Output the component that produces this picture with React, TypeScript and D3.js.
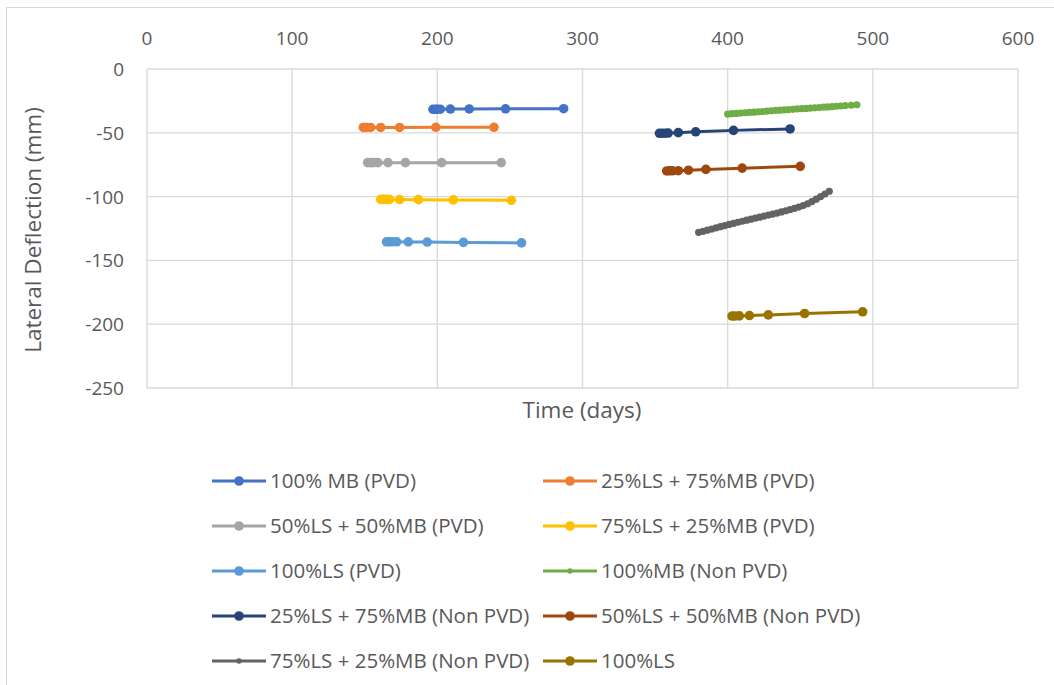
import * as d3 from "d3";
import { useEffect, useRef } from "react";

const WIDTH = 1054;
const HEIGHT = 685;

const xTicks = [0, 100, 200, 300, 400, 500, 600];
const yTicks = [0, -50, -100, -150, -200, -250];

// series values (days, deflection mm)
const mb100PvdDays = [197, 199, 200, 202, 209, 222, 247, 287];
const mb100PvdVals = [-31.6, -31.6, -31.5, -31.5, -31.4, -31.3, -31.2, -31.1];

const ls25PvdDays = [149, 151, 154, 161, 174, 199, 239];
const ls25PvdVals = [-45.8, -45.8, -45.8, -45.8, -45.8, -45.7, -45.7];

const ls50PvdDays = [152, 154, 156, 159, 166, 178, 203, 244];
const ls50PvdVals = [-73.4, -73.4, -73.4, -73.4, -73.4, -73.4, -73.4, -73.4];

const ls75PvdDays = [161, 163, 165, 167, 174, 187, 211, 251];
const ls75PvdVals = [-102.2, -102.2, -102.2, -102.2, -102.3, -102.4, -102.6, -102.9];

const ls100PvdDays = [165, 167, 169, 172, 180, 193, 218, 258];
const ls100PvdVals = [-135.4, -135.4, -135.4, -135.4, -135.5, -135.6, -135.9, -136.3];

const mb100NonDays = [
  400, 403, 406, 409, 412, 415, 418, 421, 424, 427, 430, 433, 436, 439, 442,
  445, 448, 451, 454, 457, 460, 463, 466, 469, 472, 475, 478, 481, 485, 489,
];
const mb100NonVals = [
  -35.3, -35.0, -34.8, -34.5, -34.3, -34.0, -33.8, -33.5, -33.3, -33.0, -32.8,
  -32.5, -32.3, -32.0, -31.8, -31.6, -31.3, -31.1, -30.9, -30.6, -30.4, -30.2,
  -29.9, -29.7, -29.5, -29.2, -29.0, -28.7, -28.4, -28.0,
];

const ls25NonDays = [353, 355, 357, 359, 366, 378, 404, 443];
const ls25NonVals = [-50.4, -50.3, -50.3, -50.2, -49.9, -49.2, -48.1, -47.0];

const ls50NonDays = [358, 360, 362, 366, 373, 385, 410, 450];
const ls50NonVals = [-79.9, -79.8, -79.8, -79.7, -79.3, -78.7, -77.7, -76.3];

const ls75NonDays = [
  380, 383, 386, 389, 392, 395, 398, 401, 404, 407, 410, 413, 416, 419, 422,
  425, 428, 431, 434, 437, 440, 443, 446, 449, 452, 455, 458, 461, 464, 467, 470,
];
const ls75NonVals = [
  -128.0, -127.2, -126.3, -125.4, -124.5, -123.6, -122.7, -121.8, -121.0,
  -120.1, -119.3, -118.5, -117.7, -116.9, -116.1, -115.3, -114.5, -113.7,
  -112.9, -112.0, -111.1, -110.2, -109.2, -108.2, -107.0, -105.6, -103.9,
  -102.0, -100.0, -98.0, -95.8,
];

const ls100NonDays = [403, 405, 408, 415, 428, 453, 493];
const ls100NonVals = [-193.6, -193.6, -193.5, -193.2, -192.7, -191.6, -190.3];

const seriesNames = [
  "100% MB (PVD)",
  "25%LS + 75%MB (PVD)",
  "50%LS + 50%MB (PVD)",
  "75%LS + 25%MB (PVD)",
  "100%LS (PVD)",
  "100%MB (Non PVD)",
  "25%LS + 75%MB (Non PVD)",
  "50%LS + 50%MB (Non PVD)",
  "75%LS + 25%MB (Non PVD)",
  "100%LS",
];
const seriesColors = [
  "#4472C4", "#ED7D31", "#A5A5A5", "#FFC000", "#5B9BD5",
  "#70AD47", "#264478", "#9E480E", "#636363", "#997300",
];
const seriesDays = [
  mb100PvdDays, ls25PvdDays, ls50PvdDays, ls75PvdDays, ls100PvdDays,
  mb100NonDays, ls25NonDays, ls50NonDays, ls75NonDays, ls100NonDays,
];
const seriesVals = [
  mb100PvdVals, ls25PvdVals, ls50PvdVals, ls75PvdVals, ls100PvdVals,
  mb100NonVals, ls25NonVals, ls50NonVals, ls75NonVals, ls100NonVals,
];
const smallMarker = [false, false, false, false, false, true, false, false, true, false];

const FONT = "'Open Sans', sans-serif";
const TEXT = "#595959";
const GRID = "#d9d9d9";

const App = () => {
  const svgRef = useRef<SVGSVGElement | null>(null);

  useEffect(() => {
    const svg = d3.select(svgRef.current);
    svg.selectAll("*").remove();

    const margin = { top: 69, left: 147, right: 1018, bottom: 388 };

    const x = d3.scaleLinear().domain([0, 600]).range([margin.left, margin.right]);
    const y = d3.scaleLinear().domain([-250, 0]).range([margin.bottom, margin.top]);

    // chart area border
    svg
      .append("rect")
      .attr("x", 6.5)
      .attr("y", 7.5)
      .attr("width", 1060)
      .attr("height", 690)
      .attr("fill", "white")
      .attr("stroke", GRID);

    // grid
    const grid = svg.append("g");
    xTicks.forEach((t) => {
      grid
        .append("line")
        .attr("x1", x(t))
        .attr("x2", x(t))
        .attr("y1", y(0))
        .attr("y2", y(-250))
        .attr("stroke", GRID)
        .attr("stroke-width", 1.3);
    });
    yTicks.forEach((t) => {
      grid
        .append("line")
        .attr("x1", x(0))
        .attr("x2", x(600))
        .attr("y1", y(t))
        .attr("y2", y(t))
        .attr("stroke", GRID)
        .attr("stroke-width", 1.3);
    });

    // tick labels
    svg
      .append("g")
      .selectAll("text")
      .data(xTicks)
      .join("text")
      .attr("x", (d) => x(d))
      .attr("y", 45)
      .attr("text-anchor", "middle")
      .attr("font-family", FONT)
      .attr("font-size", 19)
      .attr("fill", TEXT)
      .text((d) => d);

    svg
      .append("g")
      .selectAll("text")
      .data(yTicks)
      .join("text")
      .attr("x", 124)
      .attr("y", (d) => y(d) + 7)
      .attr("text-anchor", "end")
      .attr("font-family", FONT)
      .attr("font-size", 19)
      .attr("fill", TEXT)
      .text((d) => d);

    // axis titles
    svg
      .append("text")
      .attr("x", 582)
      .attr("y", 418)
      .attr("text-anchor", "middle")
      .attr("font-family", FONT)
      .attr("font-size", 22.5)
      .attr("fill", TEXT)
      .text("Time (days)");

    svg
      .append("text")
      .attr("transform", "translate(41,230) rotate(-90)")
      .attr("text-anchor", "middle")
      .attr("font-family", FONT)
      .attr("font-size", 22.5)
      .attr("fill", TEXT)
      .text("Lateral Deflection (mm)");

    // series
    const line = d3
      .line<[number, number]>()
      .x((d) => x(d[0]))
      .y((d) => y(d[1]));

    seriesNames.forEach((name, i) => {
      const pts: [number, number][] = seriesDays[i].map((d, j) => [d, seriesVals[i][j]]);
      const g = svg.append("g");
      g.append("path")
        .datum(pts)
        .attr("fill", "none")
        .attr("stroke", seriesColors[i])
        .attr("stroke-width", 3)
        .attr("stroke-linejoin", "round")
        .attr("stroke-linecap", "round")
        .attr("d", line);
      g.selectAll("circle")
        .data(pts)
        .join("circle")
        .attr("cx", (d) => x(d[0]))
        .attr("cy", (d) => y(d[1]))
        .attr("r", smallMarker[i] ? 3.6 : 4.8)
        .attr("fill", seriesColors[i]);
    });

    // legend
    const legend = svg.append("g");
    seriesNames.forEach((name, i) => {
      const col = i % 2;
      const row = Math.floor(i / 2);
      const lx = col === 0 ? 212 : 543;
      const ly = 481 + row * 45;
      legend
        .append("line")
        .attr("x1", lx)
        .attr("x2", lx + 54)
        .attr("y1", ly)
        .attr("y2", ly)
        .attr("stroke", seriesColors[i])
        .attr("stroke-width", 3);
      legend
        .append("circle")
        .attr("cx", lx + 27)
        .attr("cy", ly)
        .attr("r", smallMarker[i] ? 2.8 : 4.8)
        .attr("fill", seriesColors[i]);
      legend
        .append("text")
        .attr("x", lx + 58)
        .attr("y", ly + 7)
        .attr("font-family", FONT)
        .attr("font-size", 20.5)
        .attr("fill", TEXT)
        .text(name);
    });
  }, []);

  return (
    <svg
      ref={svgRef}
      width={WIDTH}
      height={HEIGHT}
      style={{ position: "absolute", left: 0, top: 0, background: "white" }}
    ></svg>
  );
};

export default App;
